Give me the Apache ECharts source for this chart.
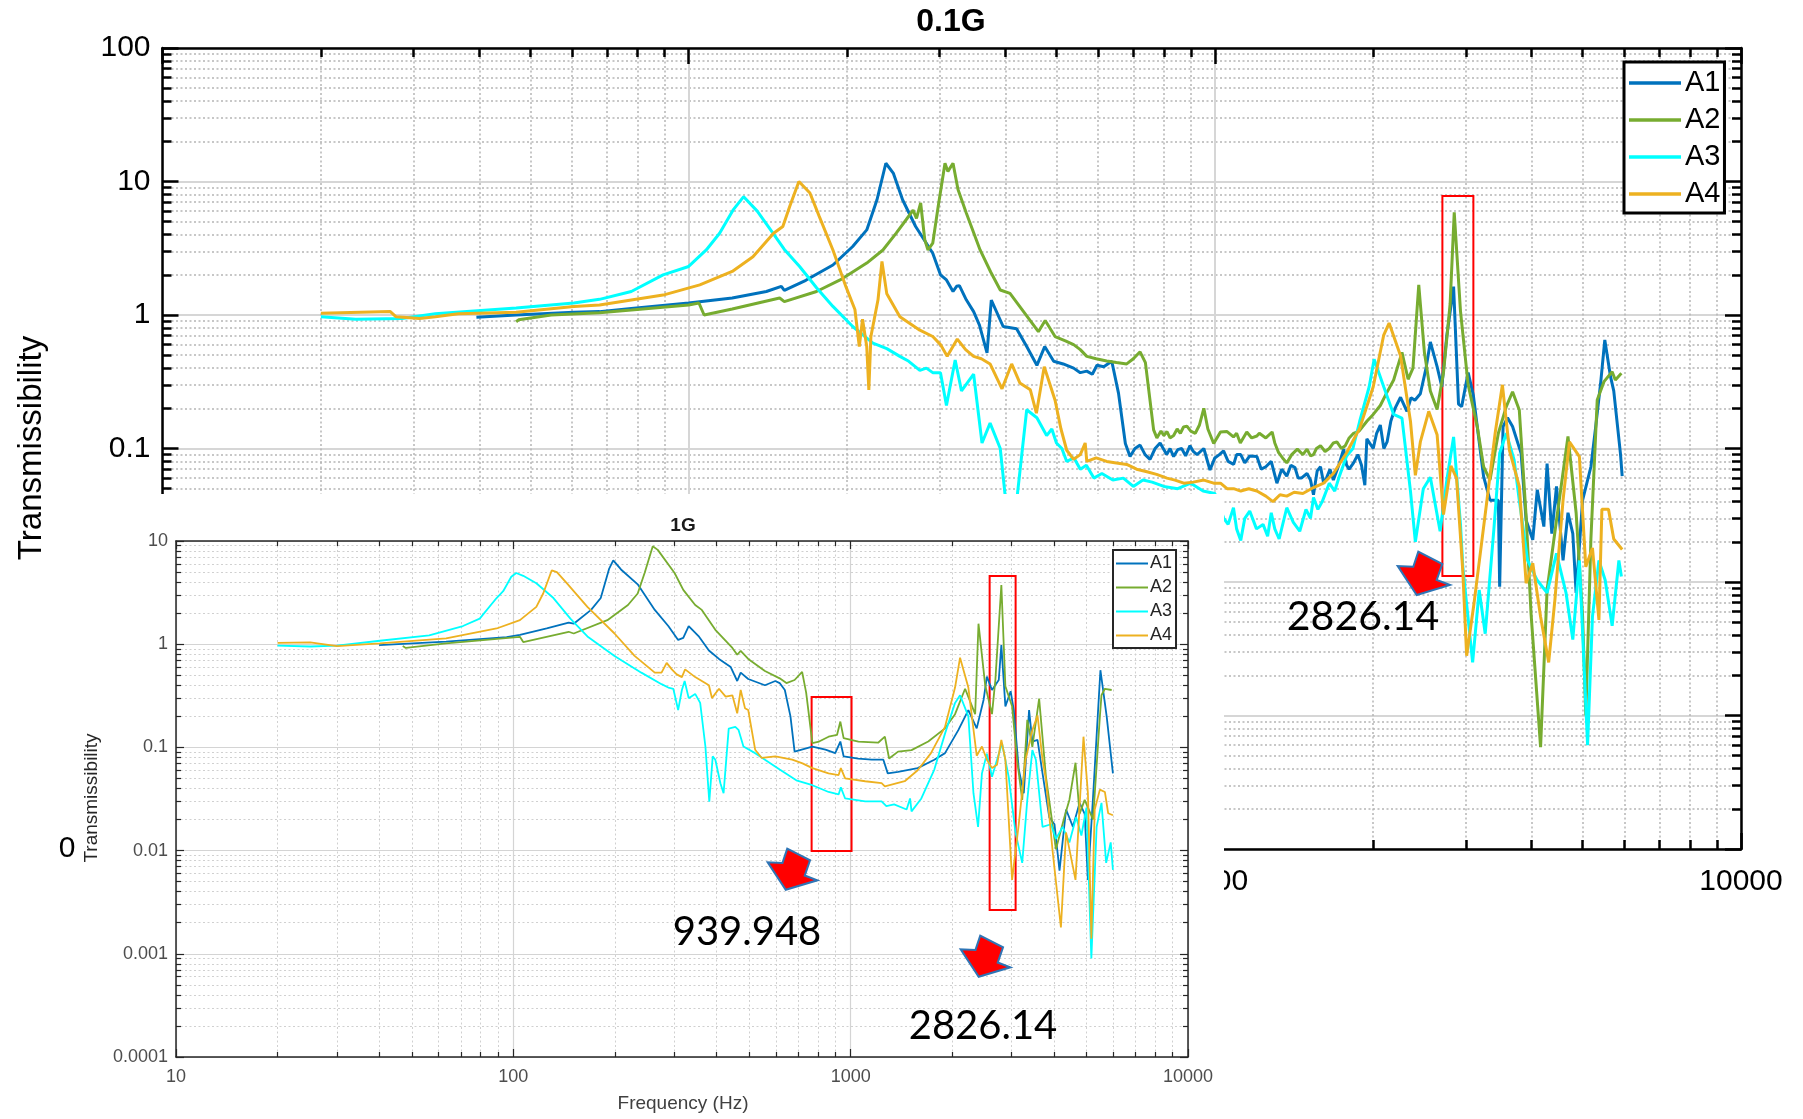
<!DOCTYPE html>
<html><head><meta charset="utf-8">
<script src="https://cdn.jsdelivr.net/npm/echarts@6/dist/echarts.min.js"></script>
<style>
html,body{margin:0;padding:0;background:#fff;}
#main{position:absolute;left:0;top:0;width:1803px;height:1119px;}
#inset{position:absolute;left:76px;top:494px;width:1148px;height:625px;background:#fff;}
</style></head><body>
<div id="main"></div><div id="inset"></div>
<script>
// ---------- data ----------
const seriesNames = ['A1', 'A2', 'A3', 'A4'];
const xTickLabels = ['10', '100', '1000', '10000'];
const yTickLabels = ['0.0001', '0.001', '0.01', '0.1', '1', '10', '100'];
const mainTitle = '0.1G';
const insetTitle = '1G';
const yName = 'Transmissibility';
const xName = 'Frequency (Hz)';

// 0.1G (main) [frequency Hz, transmissibility]
const main_A1 = [[39.5,0.96],[47,1.0],[60.5,1.05],[67.7,1.06],[77.8,1.12],[100,1.23],[121,1.34],[140.5,1.5],[150,1.64],[152,1.53],[167,1.82],[188,2.37],[205,3.26],[218,4.34],[228,7.3],[237,13.7],[245,11.5],[255,7.3],[270,4.6],[291,2.9],[301,2.0],[309,1.83],[318,1.5],[323,1.64],[327,1.66],[337,1.3],[348,1.06],[357,0.84],[369,0.52],[376,1.29],[396,0.82],[420,0.79],[439,0.58],[459,0.42],[475,0.58],[494,0.45],[515,0.43],[539,0.40],[555,0.37],[571,0.38],[585,0.36],[597,0.42],[615,0.41],[637,0.45],[656,0.26],[676,0.109],[690,0.087],[705,0.1],[721,0.106],[737,0.09],[753,0.083],[770,0.1],[787,0.11],[810,0.09],[822,0.1],[835,0.087],[850,0.098],[865,0.1],[880,0.088],[897,0.105],[910,0.095],[925,0.09],[953,0.1],[979,0.069],[1000,0.085],[1020,0.09],[1039,0.096],[1060,0.08],[1086,0.076],[1100,0.09],[1120,0.09],[1140,0.078],[1165,0.088],[1202,0.087],[1225,0.07],[1250,0.073],[1280,0.08],[1312,0.055],[1340,0.07],[1370,0.062],[1395,0.075],[1420,0.072],[1440,0.06],[1460,0.06],[1497,0.065],[1520,0.058],[1540,0.045],[1565,0.068],[1588,0.073],[1610,0.055],[1630,0.06],[1655,0.07],[1680,0.058],[1720,0.075],[1757,0.099],[1780,0.075],[1800,0.07],[1835,0.078],[1870,0.09],[1900,0.075],[1928,0.053],[1945,0.118],[2000,0.1],[2030,0.13],[2063,0.15],[2095,0.1],[2125,0.112],[2160,0.16],[2200,0.2],[2254,0.242],[2318,0.19],[2360,0.24],[2400,0.23],[2458,0.257],[2520,0.4],[2568,0.628],[2645,0.41],[2700,0.29],[2760,0.7],[2843,1.63],[2905,0.215],[2945,0.206],[3030,0.37],[3100,0.25],[3153,0.146],[3242,0.0615],[3334,0.041],[3458,0.041],[3478,0.0092],[3530,0.146],[3600,0.17],[3680,0.146],[3820,0.092],[3905,0.029],[4020,0.0207],[4100,0.049],[4220,0.026],[4280,0.077],[4370,0.023],[4460,0.052],[4590,0.0145],[4690,0.033],[4790,0.023],[4860,0.0083],[5000,0.041],[5185,0.073],[5295,0.146],[5410,0.308],[5510,0.65],[5650,0.345],[5730,0.27],[5900,0.092],[5945,0.062]];
const main_A2 = [[47,0.89],[47.5,0.92],[54.8,1.0],[67.7,1.04],[77.8,1.09],[100,1.19],[104.6,1.23],[107,1.0],[121,1.11],[148.9,1.34],[152,1.26],[175,1.5],[194,1.83],[218,2.45],[234,3.07],[248,4.1],[259,5.17],[267,6.1],[271,5.3],[276,6.9],[281,3.66],[285,3.07],[291,3.45],[298,6.5],[307,13.7],[311,11.9],[318,13.7],[325,8.7],[337,5.8],[358,3.07],[375,2.1],[391,1.54],[408,1.45],[433,1.06],[462,0.75],[476,0.91],[497,0.69],[520,0.64],[539,0.6],[555,0.55],[571,0.49],[595,0.47],[623,0.453],[650,0.44],[680,0.43],[700,0.47],[721,0.53],[738,0.44],[765,0.138],[776,0.12],[790,0.135],[800,0.125],[811,0.134],[822,0.12],[835,0.125],[848,0.14],[860,0.13],[872,0.145],[885,0.147],[900,0.135],[918,0.13],[935,0.15],[953,0.2],[970,0.14],[995,0.109],[1025,0.133],[1055,0.134],[1085,0.122],[1100,0.13],[1118,0.11],[1150,0.133],[1175,0.12],[1202,0.124],[1215,0.13],[1250,0.12],[1285,0.133],[1300,0.11],[1322,0.093],[1345,0.085],[1370,0.078],[1400,0.09],[1435,0.099],[1470,0.09],[1497,0.099],[1520,0.088],[1540,0.09],[1560,0.1],[1588,0.105],[1620,0.095],[1650,0.1],[1680,0.11],[1706,0.112],[1740,0.1],[1770,0.105],[1800,0.12],[1835,0.13],[1880,0.135],[1945,0.16],[2000,0.18],[2063,0.21],[2120,0.26],[2187,0.326],[2268,0.525],[2330,0.33],[2380,0.4],[2441,1.68],[2502,0.525],[2568,0.27],[2645,0.196],[2720,0.37],[2800,1.21],[2851,5.87],[2930,1.07],[3030,0.3],[3153,0.146],[3242,0.073],[3334,0.058],[3458,0.13],[3580,0.206],[3680,0.266],[3790,0.194],[3905,0.031],[3990,0.0058],[4160,0.00058],[4280,0.0087],[4460,0.029],[4690,0.123],[4860,0.033],[5000,0.0055],[5070,0.001],[5185,0.021],[5330,0.231],[5490,0.317],[5690,0.376],[5770,0.326],[5925,0.366]];
const main_A3 = [[20,0.97],[23.3,0.93],[28.5,0.94],[33,1.02],[47,1.13],[60.5,1.23],[67.7,1.31],[77.8,1.5],[89.4,2.0],[100,2.31],[108,3.07],[114.5,4.1],[121.4,6.1],[127.2,7.7],[135,6.0],[144.6,4.1],[152,3.1],[162.5,2.31],[175,1.6],[188,1.16],[205,0.82],[224,0.615],[238,0.56],[252,0.49],[262,0.45],[275,0.385],[283,0.4],[291,0.37],[301,0.37],[309,0.21],[321,0.46],[330,0.27],[348,0.36],[361,0.11],[374,0.155],[391,0.1],[402,0.035],[410,0.03],[420,0.04],[439,0.195],[459,0.17],[479,0.125],[490,0.14],[500,0.11],[512,0.1],[523,0.08],[540,0.085],[555,0.07],[570,0.075],[589,0.06],[610,0.065],[640,0.058],[670,0.06],[700,0.052],[730,0.058],[760,0.056],[800,0.052],[850,0.05],[900,0.055],[950,0.048],[1000,0.046],[1040,0.03],[1060,0.027],[1085,0.036],[1100,0.025],[1120,0.0205],[1140,0.03],[1165,0.034],[1200,0.025],[1235,0.027],[1260,0.022],[1280,0.033],[1300,0.025],[1325,0.021],[1370,0.036],[1410,0.028],[1450,0.024],[1490,0.035],[1520,0.03],[1540,0.043],[1570,0.035],[1600,0.04],[1650,0.055],[1690,0.048],[1720,0.06],[1780,0.088],[1830,0.1],[1885,0.16],[1965,0.29],[2008,0.466],[2094,0.29],[2187,0.18],[2268,0.169],[2354,0.048],[2405,0.02],[2490,0.05],[2568,0.061],[2680,0.024],[2760,0.058],[2843,0.122],[2930,0.027],[2960,0.013],[3090,0.0025],[3180,0.0087],[3265,0.0041],[3390,0.0245],[3478,0.092],[3580,0.13],[3705,0.082],[3790,0.041],[3930,0.0145],[4100,0.0103],[4280,0.0083],[4460,0.0164],[4650,0.0083],[4790,0.0037],[4930,0.0145],[5110,0.0006],[5220,0.0055],[5370,0.0145],[5520,0.0103],[5690,0.0047],[5860,0.0145],[5925,0.011]];
const main_A4 = [[20,1.03],[27.1,1.06],[27.8,0.97],[30.8,0.94],[33,0.97],[36.5,1.02],[47,1.05],[60.5,1.16],[67.7,1.19],[89.4,1.41],[105,1.68],[121,2.12],[132.5,2.73],[145,4.1],[151,4.6],[155.6,6.5],[162,10],[170,8.2],[177,5.5],[188,3.07],[199,1.63],[207,1.1],[211,0.58],[214,0.93],[218,0.58],[220,0.275],[222,0.69],[229,1.3],[233,2.52],[238,1.44],[252,0.97],[265,0.85],[275,0.77],[291,0.69],[301,0.6],[310,0.49],[324,0.66],[336,0.55],[348,0.49],[360,0.47],[374,0.43],[394,0.28],[411,0.43],[426,0.31],[446,0.275],[458,0.184],[474,0.41],[497,0.23],[510,0.14],[523,0.097],[539,0.083],[555,0.09],[567,0.11],[571,0.08],[595,0.085],[623,0.08],[650,0.078],[680,0.076],[710,0.07],[743,0.067],[775,0.064],[811,0.06],[840,0.058],[873,0.055],[910,0.056],[953,0.058],[995,0.055],[1025,0.055],[1055,0.05],[1086,0.05],[1120,0.048],[1160,0.05],[1202,0.048],[1250,0.044],[1290,0.04],[1330,0.045],[1370,0.044],[1415,0.047],[1470,0.046],[1540,0.051],[1610,0.055],[1680,0.065],[1780,0.093],[1885,0.142],[2000,0.29],[2094,0.708],[2144,0.87],[2254,0.495],[2354,0.16],[2405,0.063],[2458,0.112],[2550,0.19],[2645,0.127],[2720,0.032],[2810,0.074],[2880,0.06],[2960,0.012],[3010,0.0028],[3110,0.007],[3290,0.041],[3410,0.13],[3520,0.3],[3630,0.097],[3790,0.052],[3905,0.0098],[4020,0.0138],[4160,0.0055],[4310,0.0025],[4430,0.0074],[4590,0.041],[4720,0.112],[4930,0.087],[5070,0.013],[5220,0.018],[5370,0.0052],[5440,0.035],[5600,0.035],[5730,0.021],[5945,0.0175]];

// 1G (inset)
const inset_A1 = [[40,0.98],[63.2,1.06],[95.5,1.17],[104.6,1.23],[125.6,1.42],[145.9,1.62],[151,1.58],[170,2.15],[181.6,2.8],[192.4,5.4],[197.8,6.5],[208.5,5.3],[233.7,3.8],[262.6,2.15],[288,1.5],[308,1.1],[319,1.15],[331,1.5],[354,1.2],[380,0.87],[407,0.72],[441,0.6],[461,0.44],[472,0.53],[497,0.46],[557,0.4],[598,0.44],[616,0.42],[638,0.36],[663,0.2],[682,0.091],[738,0.098],[770,0.102],[842,0.095],[900,0.088],[932,0.114],[953,0.082],[1054,0.078],[1155,0.076],[1250,0.076],[1288,0.056],[1382,0.058],[1580,0.063],[1770,0.076],[1904,0.088],[2085,0.147],[2233,0.23],[2364,0.153],[2478,0.29],[2534,0.485],[2624,0.36],[2748,0.45],[2797,0.98],[2875,0.25],[2980,0.35],[3045,0.23],[3150,0.061],[3260,0.036],[3380,0.23],[3456,0.114],[3580,0.118],[3705,0.056],[3880,0.021],[4020,0.018],[4160,0.0064],[4350,0.025],[4560,0.017],[4770,0.029],[4940,0.0227],[5050,0.0052],[5230,0.033],[5500,0.56],[5740,0.2],[5990,0.056]];
const inset_A2 = [[47,0.96],[48,0.92],[63.2,1.02],[104.6,1.18],[107,1.05],[145.9,1.32],[151,1.27],[190,1.71],[218.7,2.4],[233.7,3.1],[245,4.9],[259,8.9],[268,8.2],[300.6,4.9],[319,3.36],[346,2.4],[362,2.15],[397,1.38],[446,0.92],[461,0.79],[472,0.86],[497,0.72],[557,0.55],[616,0.467],[645,0.42],[682,0.45],[718,0.54],[738,0.34],[770,0.11],[806,0.114],[860,0.127],[911,0.132],[932,0.178],[953,0.123],[1054,0.114],[1206,0.111],[1263,0.127],[1300,0.078],[1382,0.091],[1515,0.094],[1698,0.114],[1904,0.153],[2039,0.21],[2184,0.37],[2339,0.21],[2393,1.58],[2505,0.4],[2624,0.21],[2685,0.45],[2797,3.75],[2875,0.39],[3010,0.25],[3114,0.076],[3225,0.031],[3339,0.185],[3456,0.101],[3620,0.297],[3790,0.053],[4060,0.0103],[4300,0.021],[4450,0.031],[4640,0.071],[4770,0.0227],[4940,0.031],[5230,0.02],[5480,0.2],[5540,0.32],[5670,0.37],[5940,0.36]];
const inset_A3 = [[20,0.97],[25,0.95],[30,0.97],[40.2,1.08],[56.3,1.22],[70.9,1.5],[79.5,1.77],[89.2,2.8],[93.3,3.26],[98.6,4.5],[102,4.9],[107,4.6],[117,3.9],[131.5,2.8],[147.6,1.77],[165.8,1.19],[199.5,0.77],[239.6,0.53],[275,0.41],[288,0.38],[298,0.37],[308,0.23],[316,0.36],[322,0.44],[331,0.3],[346,0.33],[358,0.27],[371,0.102],[381,0.0298],[390,0.082],[397,0.076],[411,0.045],[420,0.036],[435,0.152],[455,0.158],[465,0.148],[481,0.102],[521,0.088],[616,0.061],[690,0.048],[770,0.043],[860,0.037],[921,0.035],[935,0.041],[963,0.032],[1104,0.03],[1235,0.03],[1276,0.027],[1345,0.028],[1465,0.025],[1500,0.032],[1515,0.024],[1620,0.032],[1770,0.061],[1904,0.136],[2039,0.27],[2110,0.32],[2233,0.2],[2312,0.036],[2386,0.017],[2450,0.056],[2534,0.087],[2624,0.052],[2810,0.11],[2940,0.052],[3080,0.015],[3225,0.0076],[3339,0.031],[3456,0.094],[3540,0.076],[3705,0.017],[3925,0.018],[4060,0.013],[4250,0.017],[4450,0.012],[4660,0.021],[4830,0.014],[5000,0.026],[5170,0.0009],[5360,0.017],[5540,0.029],[5720,0.0076],[5900,0.012],[5990,0.0065]];
const inset_A4 = [[20,1.03],[25,1.04],[30,0.96],[40.2,1.02],[63.2,1.14],[89.2,1.42],[104.6,1.71],[117,2.3],[122.6,3.1],[130,5.2],[134.6,5.0],[144,3.9],[165.8,2.3],[199.5,1.27],[228.8,0.77],[262.6,0.53],[275,0.53],[284.8,0.66],[295,0.57],[305,0.51],[316,0.48],[323,0.57],[346,0.48],[380,0.4],[388,0.3],[407,0.37],[426,0.31],[446,0.32],[461,0.214],[472,0.36],[486,0.24],[497,0.23],[521,0.095],[545,0.079],[598,0.082],[671,0.076],[720,0.07],[770,0.063],[860,0.056],[921,0.054],[935,0.063],[963,0.05],[1104,0.047],[1235,0.045],[1263,0.042],[1446,0.047],[1580,0.06],[1730,0.088],[1904,0.158],[2039,0.38],[2110,0.74],[2233,0.38],[2364,0.083],[2450,0.102],[2534,0.076],[2624,0.063],[2716,0.068],[2797,0.118],[2875,0.076],[3010,0.0052],[3150,0.018],[3300,0.076],[3456,0.147],[3580,0.204],[3705,0.076],[3790,0.049],[3970,0.0098],[4200,0.0018],[4350,0.015],[4640,0.0052],[4900,0.127],[5050,0.036],[5170,0.0014],[5290,0.025],[5480,0.039],[5670,0.037],[5800,0.023],[5990,0.022]];

// highlighted frequency boxes [f1, v1, f2, v2]
const mainBoxes = [[2707, 7.8, 3100, 0.0111]];
const insetBoxes = [[766, 0.308, 1006, 0.0099], [2582, 4.58, 3083, 0.00266]];
const mainNotes = ['2826.14'];
const insetNotes = ['939.948', '2826.14'];

// ---------- styling ----------
const colors = ['#0072BD', '#77AC30', '#00FFFF', '#EDB120'];
const FONT = "'Liberation Sans', Arial, sans-serif";
const NOTEFONT = "Lato, 'Open Sans', sans-serif";
const fmtX = v => xTickLabels[Math.round(Math.log10(v)) - 1];
const fmtY = v => yTickLabels[Math.round(Math.log10(v)) + 4];
const arrowShape = [[21.3,0.7],[45.3,13],[39.7,29],[53,34],[19.7,44],[0.7,15],[16.3,15.7]];
function arrow(x0, y0, s) {
  return { type: 'polygon', z: 100,
    shape: { points: arrowShape.map(p => [x0 + p[0] * s, y0 + p[1] * s]) },
    style: { fill: '#ff0000', stroke: '#2e75b6', lineWidth: 2 } };
}
function boxArea(b) {
  return { silent: true,
    itemStyle: { color: 'rgba(0,0,0,0)', borderColor: '#ff0000', borderWidth: 2 },
    data: b.map(r => [{ coord: [r[0], r[1]] }, { coord: [r[2], r[3]] }]) };
}
function makeAxes(s) {
  const base = (pos, isX) => ({
    type: 'log', logBase: 10, gridIndex: 0, position: pos,
    min: isX ? 10 : s.ymin, max: isX ? 10000 : s.ymax, interval: 1,
    axisLine: { show: true, onZero: false, lineStyle: { color: s.axisColor, width: s.axisWidth } },
    axisTick: { show: true, inside: true, length: s.tickLen, lineStyle: { color: s.axisColor, width: s.tickWidth } },
    minorTick: { show: true, splitNumber: 9, length: s.minorLen, lineStyle: { color: s.axisColor, width: s.tickWidth } },
    axisLabel: { show: false },
    splitLine: { show: false },
    minorSplitLine: { show: false }
  });
  const xb = base('bottom', true), xt = base('top', true), yl = base('left', false), yr = base('right', false);
  xb.axisLabel = { show: true, formatter: fmtX, fontSize: s.labelSize, color: s.labelColor, fontFamily: FONT, margin: s.xMargin };
  yl.axisLabel = { show: true, formatter: fmtY, fontSize: s.labelSize, color: s.labelColor, fontFamily: FONT, margin: s.yMargin };
  [xb, yl].forEach(a => {
    a.splitLine = { show: true, lineStyle: { color: s.majorGrid, width: s.majorGridW } };
    a.minorSplitLine = { show: true, lineStyle: { color: s.minorGrid, width: s.minorGridW, type: [2, 2.5] } };
  });
  return { xAxis: [xb, xt], yAxis: [yl, yr] };
}
function makeSeries(datas, lw, boxes) {
  return datas.map((d, i) => ({
    name: seriesNames[i], type: 'line', data: d, xAxisIndex: 0, yAxisIndex: 0,
    symbol: 'none', showSymbol: false, sampling: null,
    lineStyle: { color: colors[i], width: lw }, itemStyle: { color: colors[i] },
    markArea: i === 0 ? boxArea(boxes) : undefined
  }));
}
function legendData() {
  return seriesNames.map((n, i) => ({ name: n, icon: 'rect', itemStyle: { color: colors[i], borderWidth: 0 } }));
}

// ---------- main chart (0.1G) ----------
const mainAxes = makeAxes({ ymin: 0.0001, ymax: 100, axisColor: '#000', axisWidth: 2.5, tickLen: 16, minorLen: 9, tickWidth: 2.5,
  labelSize: 30, labelColor: '#000', xMargin: 18, yMargin: 12, majorGrid: '#d6d6d6', majorGridW: 2, minorGrid: '#b5b5b5', minorGridW: 1.5 });
const mainChart = echarts.init(document.getElementById('main'), null, { renderer: 'canvas' });
mainChart.setOption({
  animation: false, backgroundColor: '#fff',
  grid: { left: 162.5, top: 48, width: 1578.5, height: 801, containLabel: false },
  xAxis: mainAxes.xAxis, yAxis: mainAxes.yAxis,
  legend: { orient: 'vertical', left: 1624, top: 62, data: legendData(),
    backgroundColor: '#fff', borderColor: '#000', borderWidth: 3, padding: [5, 4, 3, 5],
    itemWidth: 52, itemHeight: 3.5, itemGap: 5,
    textStyle: { fontSize: 29, fontFamily: FONT, color: '#000', lineHeight: 32, padding: [0, 0, 0, -1] } },
  series: makeSeries([main_A1, main_A2, main_A3, main_A4], 3, mainBoxes),
  graphic: [
    { type: 'text', x: 951, y: 22, z: 100, style: { text: mainTitle, fontSize: 32, fontWeight: 'bold', fontFamily: FONT, fill: '#000', align: 'center', verticalAlign: 'middle' } },
    { type: 'text', x: 32, y: 448, rotation: Math.PI / 2, z: 100, style: { text: yName, fontSize: 33, fontFamily: FONT, fill: '#000', align: 'center', verticalAlign: 'middle' } },
    arrow(1397, 551, 1),
    { type: 'text', x: 1363, y: 617, z: 100, style: { text: mainNotes[0], fontSize: 41, fontFamily: NOTEFONT, fill: '#000', align: 'center', verticalAlign: 'middle' } }
  ]
});

// ---------- inset chart (1G) ----------
const insetAxes = makeAxes({ ymin: 0.0001, ymax: 10, axisColor: '#262626', axisWidth: 1.5, tickLen: 8, minorLen: 5, tickWidth: 1.2,
  labelSize: 18, labelColor: '#4d4d4d', xMargin: 11, yMargin: 8, majorGrid: '#d4d4d4', majorGridW: 1.2, minorGrid: '#d0d0d0', minorGridW: 1 });
const insetChart = echarts.init(document.getElementById('inset'), null, { renderer: 'canvas' });
insetChart.setOption({
  animation: false, backgroundColor: '#fff',
  grid: { left: 100, top: 47, right: 36, bottom: 62, containLabel: false },
  xAxis: insetAxes.xAxis, yAxis: insetAxes.yAxis,
  legend: { orient: 'vertical', left: 1037, top: 56, data: legendData(),
    backgroundColor: '#fff', borderColor: '#262626', borderWidth: 2, padding: [4, 4, 3, 3],
    itemWidth: 32, itemHeight: 2, itemGap: 5,
    textStyle: { fontSize: 18, fontFamily: FONT, color: '#262626', lineHeight: 19, padding: [0, 0, 0, -3] } },
  series: makeSeries([inset_A1, inset_A2, inset_A3, inset_A4], 1.8, insetBoxes),
  graphic: [
    { type: 'text', x: 607, y: 32, z: 100, style: { text: insetTitle, fontSize: 19, fontWeight: 'bold', fontFamily: FONT, fill: '#1a1a1a', align: 'center', verticalAlign: 'middle' } },
    { type: 'text', x: 607, y: 610, z: 100, style: { text: xName, fontSize: 19, fontFamily: FONT, fill: '#404040', align: 'center', verticalAlign: 'middle' } },
    { type: 'text', x: 16, y: 304, rotation: Math.PI / 2, z: 100, style: { text: yName, fontSize: 19, fontFamily: FONT, fill: '#262626', align: 'center', verticalAlign: 'middle' } },
    arrow(691, 354, 0.95),
    arrow(884, 441, 0.95),
    { type: 'text', x: 671, y: 438, z: 100, style: { text: insetNotes[0], fontSize: 40, fontFamily: NOTEFONT, fill: '#000', align: 'center', verticalAlign: 'middle' } },
    { type: 'text', x: 907, y: 532, z: 100, style: { text: insetNotes[1], fontSize: 40, fontFamily: NOTEFONT, fill: '#000', align: 'center', verticalAlign: 'middle' } }
  ]
});
</script>
</body></html>
